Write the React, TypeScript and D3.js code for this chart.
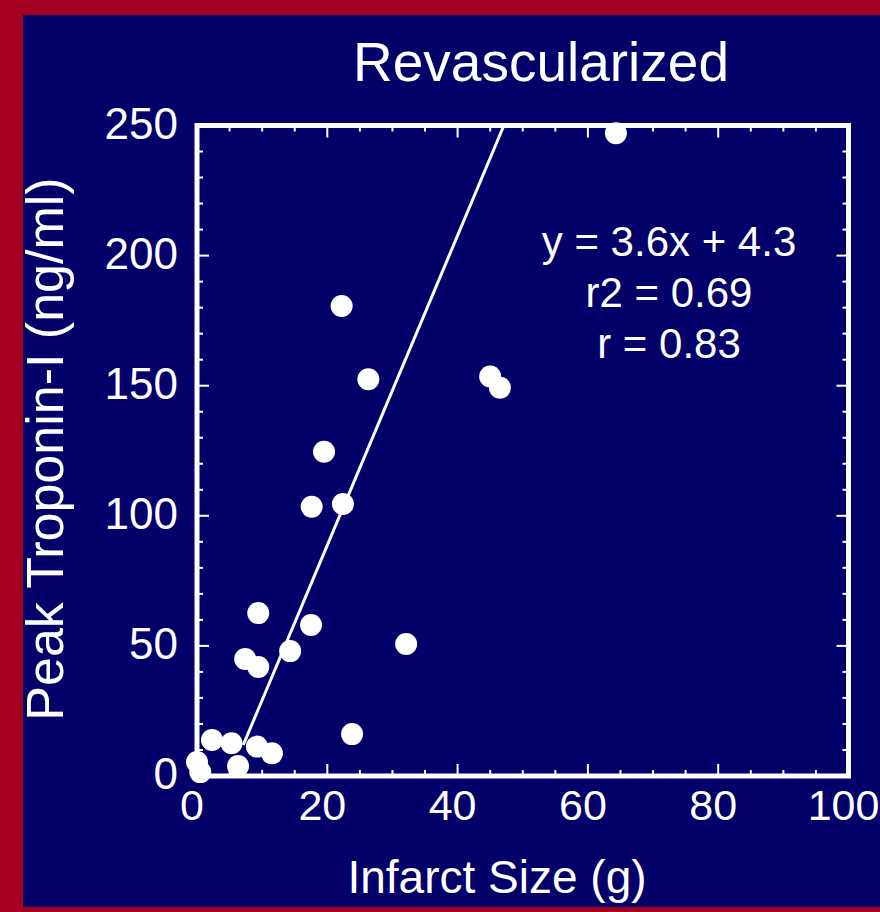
import React from 'react';
import * as d3 from 'd3';

// infarct size (g) vs peak troponin-I (ng/ml)
const infarctSize = [64.3, 22.2, 26.3, 45.0, 46.5, 19.5, 17.6, 22.4, 9.4, 17.5, 14.3, 7.4, 9.4, 32.1, 23.8, 2.3, 5.3, 9.2, 11.5, 0, 0.5, 6.3];
const troponin = [247, 180.6, 152.5, 153.5, 149.2, 124.6, 103.5, 104.5, 62.6, 58.0, 48.0, 45.0, 41.9, 50.7, 16.1, 13.8, 12.6, 11.3, 8.7, 5.4, 1.5, 3.8];

// regression line as drawn on the slide
const fitX = [7.1, 47.1];
const fitY = [11.9, 250];

const statLines = ['y = 3.6x + 4.3', 'r2 = 0.69', 'r = 0.83'];
const xTickLabels = [0, 20, 40, 60, 80, 100];
const yTickLabels = [0, 50, 100, 150, 200, 250];

const W = 880;
const H = 912;
const NAVY = '#03006a';
const RED = '#a50021';
const FONT = 'Liberation Sans, Arial, Helvetica, sans-serif';

const box = { left: 197, right: 848.5, top: 125.5, bottom: 776 };

export default function App() {
  const x = d3.scaleLinear().domain([0, 100]).range([box.left, box.right]);
  const y = d3.scaleLinear().domain([0, 250]).range([box.bottom, box.top]);

  const xTicks = x.ticks(20);
  const yTicks = y.ticks(25);

  const line = d3
    .line<number>()
    .x(d => x(fitX[d]))
    .y(d => y(fitY[d]));

  return (
    <svg
      width={W}
      height={H}
      style={{ position: 'absolute', left: 0, top: 0, display: 'block' }}
      fontFamily={FONT}
    >
      <rect x={0} y={0} width={W} height={H} fill={RED} />
      <rect x={23} y={15} width={W - 23} height={907 - 15} fill={NAVY} />

      <text x={541} y={81} fill="white" fontSize={55} textAnchor="middle">
        Revascularized
      </text>

      {/* ticks, all four sides, pointing inward */}
      <g stroke="white" strokeWidth={2}>
        {xTicks.map(d => {
          const len = d % 20 === 0 ? 12 : 6;
          return (
            <g key={'x' + d}>
              <line x1={x(d)} x2={x(d)} y1={box.bottom} y2={box.bottom - len} />
              <line x1={x(d)} x2={x(d)} y1={box.top} y2={box.top + len} />
            </g>
          );
        })}
        {yTicks.map(d => {
          const len = d % 50 === 0 ? 12 : 6;
          return (
            <g key={'y' + d}>
              <line x1={box.left} x2={box.left + len} y1={y(d)} y2={y(d)} />
              <line x1={box.right} x2={box.right - len} y1={y(d)} y2={y(d)} />
            </g>
          );
        })}
      </g>

      <rect
        x={box.left}
        y={box.top}
        width={box.right - box.left}
        height={box.bottom - box.top}
        fill="none"
        stroke="white"
        strokeWidth={5}
      />

      {xTickLabels.map(d => (
        <text key={'xl' + d} x={x(d) - 5} y={820} fill="white" fontSize={43} textAnchor="middle">
          {d}
        </text>
      ))}
      {yTickLabels.map(d => (
        <text
          key={'yl' + d}
          x={178}
          y={y(d) + 13}
          fill="white"
          fontSize={44}
          textAnchor="end"
        >
          {d}
        </text>
      ))}

      <text x={497} y={893} fill="white" fontSize={46} textAnchor="middle">
        Infarct Size (g)
      </text>
      <text
        transform={`translate(63, 449) rotate(-90)`}
        fill="white"
        fontSize={52}
        textAnchor="middle"
      >
        Peak Troponin-I (ng/ml)
      </text>

      <path d={line([0, 1]) || ''} stroke="white" strokeWidth={3} fill="none" />

      {infarctSize.map((v, i) => (
        <circle key={'p' + i} cx={x(v)} cy={y(troponin[i])} r={11} fill="white" />
      ))}

      {statLines.map((s, i) => (
        <text
          key={'s' + i}
          x={669}
          y={256 + i * 51}
          fill="white"
          fontSize={42}
          textAnchor="middle"
        >
          {s}
        </text>
      ))}
    </svg>
  );
}
